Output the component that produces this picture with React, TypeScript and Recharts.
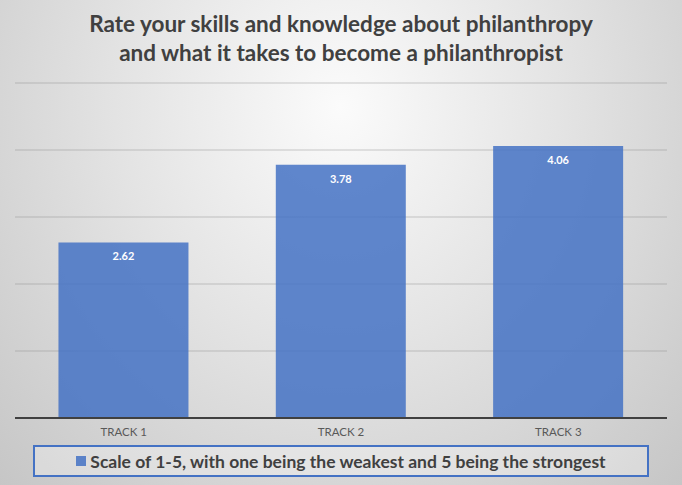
import React from "react";
import {
  BarChart,
  Bar,
  XAxis,
  YAxis,
  CartesianGrid,
  Legend,
  LabelList,
} from "recharts";

const tracks = ["TRACK 1", "TRACK 2", "TRACK 3"];
const scores = [2.62, 3.78, 4.06];
const yTicks = [0, 1, 2, 3, 4, 5];

const seriesName = "Scale of 1-5, with one being the weakest and 5 being the strongest";
const titleLines = [
  "Rate your skills and knowledge about philanthropy",
  "and what it takes to become a philanthropist",
];

const chartData = tracks.map((track, i) => ({ track, score: scores[i] }));

const barColor = "#4472C4";
const font = "Lato, 'Open Sans', sans-serif";

const LegendBox = () => (
  <div
    style={{
      margin: "0 18px 0 18px",
      height: 32,
      boxSizing: "border-box",
      border: `2px solid ${barColor}`,
      background: "rgba(255,255,255,0.3)",
      display: "flex",
      alignItems: "center",
      justifyContent: "center",
      fontFamily: font,
      fontWeight: 700,
      fontSize: 17.5,
      color: "#404040",
    }}
  >
    <span
      style={{
        display: "inline-block",
        width: 10,
        height: 10,
        background: barColor,
        opacity: 0.85,
        marginRight: 4,
      }}
    />
    {seriesName}
  </div>
);

export default function App() {
  return (
    <div
      style={{
        position: "absolute",
        left: 0,
        top: 0,
        width: 682,
        height: 485,
        overflow: "hidden",
        background:
          "radial-gradient(ellipse farthest-corner at 50% 22%, #fbfbfb 0%, #e4e4e4 45%, #c6c6c6 100%)",
      }}
    >
      <div
        style={{
          position: "absolute",
          top: 9,
          left: 0,
          width: 682,
          textAlign: "center",
          fontFamily: font,
          fontWeight: 700,
          fontSize: 22.5,
          lineHeight: "29px",
          color: "#404040",
        }}
      >
        {titleLines.map((l) => (
          <div key={l}>{l}</div>
        ))}
      </div>
      <BarChart
        width={682}
        height={485}
        data={chartData}
        margin={{ top: 83, right: 15, left: 15, bottom: 8 }}
        barCategoryGap="20%"
      >
        <CartesianGrid
          vertical={false}
          stroke="#8c8c8c"
          strokeOpacity={0.45}
        />
        <YAxis hide domain={[0, 5]} ticks={yTicks} />
        <XAxis
          dataKey="track"
          height={27}
          tickLine={false}
          axisLine={{ stroke: "#404040", strokeWidth: 2 }}
          tick={{ fontSize: 11.5, fill: "#595959", fontFamily: font }}
          tickMargin={4}
        />
        <Legend verticalAlign="bottom" height={32} content={() => <LegendBox />} />
        <Bar
          dataKey="score"
          name={seriesName}
          fill={barColor}
          fillOpacity={0.85}
          isAnimationActive={false}
        >
          <LabelList
            dataKey="score"
            position="insideTop"
            offset={10}
            fill="#ffffff"
            fontSize={11}
            fontWeight={700}
            fontFamily={font}
            formatter={(v: number) => v.toFixed(2)}
          />
        </Bar>
      </BarChart>
    </div>
  );
}
